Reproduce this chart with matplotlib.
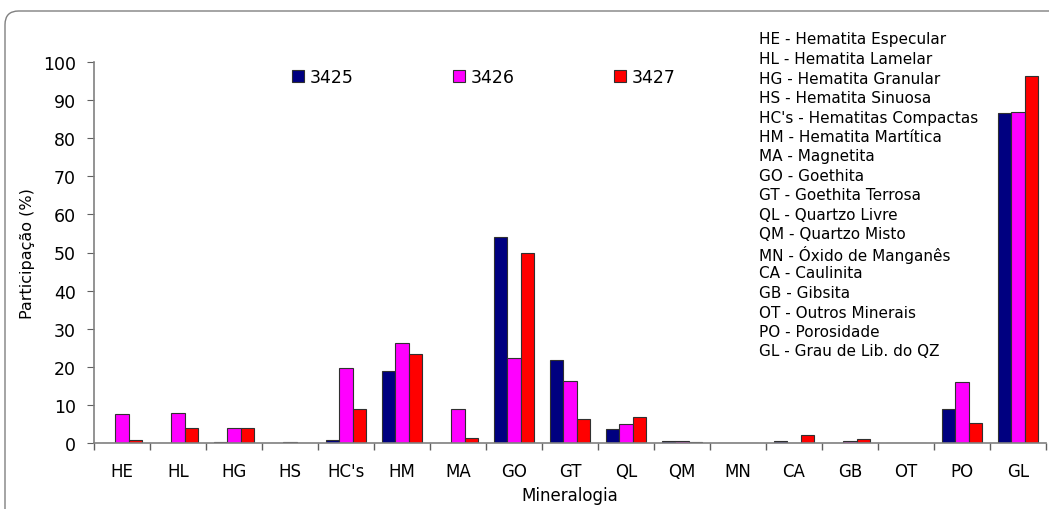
import matplotlib
matplotlib.use("Agg")
import matplotlib.pyplot as plt
import numpy as np
from matplotlib.patches import FancyBboxPatch

categories = ["HE", "HL", "HG", "HS", "HC's", "HM", "MA", "GO", "GT", "QL",
              "QM", "MN", "CA", "GB", "OT", "PO", "GL"]
s3425 = [0, 0, 0.3, 0.1, 0.8, 18.8, 0, 54.0, 21.8, 3.6, 0.6, 0, 0.4, 0, 0, 9.0, 86.5]
s3426 = [7.5, 8.0, 4.0, 0.3, 19.7, 26.3, 9.0, 22.4, 16.2, 5.0, 0.6, 0, 0, 0.6, 0, 16.0, 86.8]
s3427 = [0.7, 4.0, 4.0, 0.1, 9.0, 23.4, 1.3, 49.8, 6.2, 6.8, 0.2, 0, 2.1, 1.0, 0, 5.2, 96.3]
series_names = ["3425", "3426", "3427"]
colors = ["#000080", "#FF00FF", "#FF0000"]
glossary = ["HE - Hematita Especular", "HL - Hematita Lamelar", "HG - Hematita Granular",
            "HS - Hematita Sinuosa", "HC's - Hematitas Compactas", "HM - Hematita Martítica",
            "MA - Magnetita", "GO - Goethita", "GT - Goethita Terrosa", "QL - Quartzo Livre",
            "QM - Quartzo Misto", "MN - Óxido de Manganês", "CA - Caulinita", "GB - Gibsita",
            "OT - Outros Minerais", "PO - Porosidade", "GL - Grau de Lib. do QZ"]

plt.rcParams['font.family'] = ['DejaVu Sans']
W, H = 1049, 510
fig = plt.figure(figsize=(W/100, H/100), dpi=100)

# outer rounded frame
frame = FancyBboxPatch((5/W, -0.2), 1.2, 1 - 12/H + 0.2,
                       boxstyle="round,pad=0,rounding_size=0.013",
                       transform=fig.transFigure, facecolor="none",
                       edgecolor="#808080", linewidth=1.0, mutation_aspect=W/H)
fig.patches.append(frame)

ax = fig.add_axes([94/W, 1 - 444/H, (1046 - 94)/W, (444 - 63)/H])
x = np.arange(len(categories))
bw = 0.24
for i, (vals, name, c) in enumerate(zip([s3425, s3426, s3427], series_names, colors)):
    ax.bar(x + (i - 1) * bw, vals, bw, color=c, edgecolor="#303030",
           linewidth=0.8, label=name)

ax.set_xlim(-0.5, len(categories) - 0.5)
ax.set_ylim(0, 100)
ax.set_yticks(np.arange(0, 101, 10))
ax.set_xticks(x)
ax.set_xticklabels(categories, fontsize=12)
ax.set_xticks(np.arange(-0.5, len(categories), 1), minor=True)
ax.tick_params(axis='x', which='major', length=0, pad=14)
ax.tick_params(axis='x', which='minor', length=5, color="#606060", width=1)
ax.tick_params(axis='y', length=5, color="#606060", labelsize=12.5, pad=8)
for s in ["top", "right"]:
    ax.spines[s].set_visible(False)
for s in ["left", "bottom"]:
    ax.spines[s].set_color("#808080")
    ax.spines[s].set_linewidth(1.2)

ax.set_ylabel("Participação (%)", fontsize=11.5, labelpad=6)
ax.set_xlabel("Mineralogia", fontsize=12, labelpad=4)

leg = ax.legend(loc="center left",
                bbox_to_anchor=((292 - 94)/(1046 - 94), (444 - 78)/(444 - 63)),
                ncol=3, frameon=False, fontsize=12.5, handlelength=0.7, handleheight=0.7,
                handletextpad=0.3, columnspacing=5.75, borderaxespad=0, borderpad=0)

for k, line in enumerate(glossary):
    fig.text(759/W, 1 - (40 + k * 19.5)/H, line, fontsize=11, va="center", ha="left")

fig.savefig("out.png", dpi=100)
